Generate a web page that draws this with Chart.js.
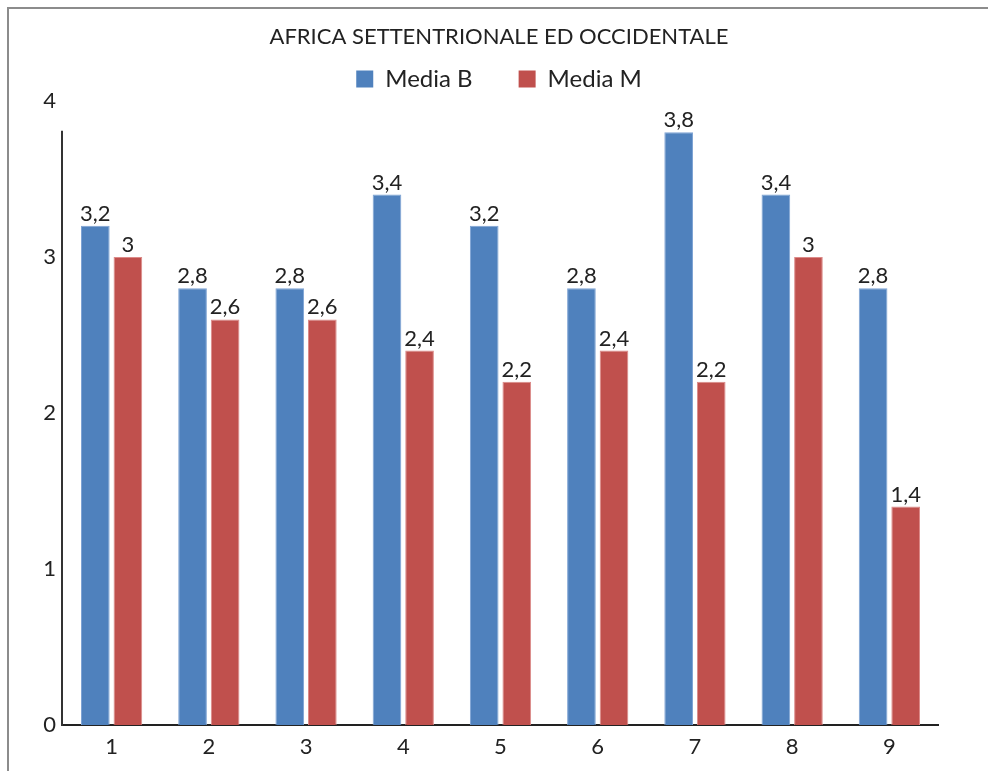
<!DOCTYPE html>
<html>
<head>
<meta charset="utf-8">
<title>Africa settentrionale ed occidentale</title>
<script src="https://cdn.jsdelivr.net/npm/chart.js@4.4.1/dist/chart.umd.min.js"></script>
<style>
  html, body { margin: 0; padding: 0; background: #fff; }
  #wrap { position: relative; width: 988px; height: 771px; overflow: hidden; }
  #frame { position: absolute; left: 7px; top: 7px; width: 1000px; height: 800px;
           border-left: 2px solid #8c8c8c; border-top: 2px solid #8c8c8c; }
  canvas { position: absolute; left: 0; top: 0; }
</style>
</head>
<body>
<div id="wrap">
  <div id="frame"></div>
  <canvas id="chart" width="988" height="771"></canvas>
</div>
<script>
const categories = ['1', '2', '3', '4', '5', '6', '7', '8', '9'];
const mediaB = [3.2, 2.8, 2.8, 3.4, 3.2, 2.8, 3.8, 3.4, 2.8];
const mediaM = [3, 2.6, 2.6, 2.4, 2.2, 2.4, 2.2, 3, 1.4];
const seriesNames = ['Media B', 'Media M'];
const yMin = 0, yMax = 4, yStep = 1;

const FONT = 'Lato, "Liberation Sans", sans-serif';
const TEXT = '#222';

const fmt = v => String(v).replace('.', ',');

// numbers on top of each bar
const valueLabels = {
  id: 'valueLabels',
  afterDatasetsDraw(chart) {
    const ctx = chart.ctx;
    ctx.save();
    ctx.font = '22px ' + FONT;
    ctx.fillStyle = TEXT;
    ctx.textAlign = 'center';
    ctx.textBaseline = 'alphabetic';
    chart.data.datasets.forEach((ds, i) => {
      chart.getDatasetMeta(i).data.forEach((bar, j) => {
        ctx.fillText(fmt(ds.data[j]), bar.x, bar.y - 5);
      });
    });
    ctx.restore();
  }
};

// the vertical axis line stops a little below the top tick
const yAxisLine = {
  id: 'yAxisLine',
  afterDraw(chart) {
    const { ctx, scales: { x, y } } = chart;
    ctx.save();
    ctx.strokeStyle = '#333';
    ctx.lineWidth = 2;
    ctx.beginPath();
    ctx.moveTo(x.left - 1, y.getPixelForValue(3.81));
    ctx.lineTo(x.left - 1, y.bottom + 1);
    ctx.stroke();
    ctx.restore();
  }
};

new Chart(document.getElementById('chart'), {
  type: 'bar',
  data: {
    labels: categories,
    datasets: [
      { label: seriesNames[0], data: mediaB, backgroundColor: '#4f81bd',
        borderColor: '#7ea3d4', borderWidth: 1 },
      { label: seriesNames[1], data: mediaM, backgroundColor: '#c0504d',
        borderColor: '#dc8a88', borderWidth: 1 }
    ]
  },
  options: {
    responsive: false,
    devicePixelRatio: 1,
    animation: false,
    categoryPercentage: 0.67,
    barPercentage: 0.88,
    layout: { padding: { left: 10, right: 0, top: 0, bottom: 0 } },
    plugins: {
      title: {
        display: true,
        text: 'AFRICA SETTENTRIONALE ED OCCIDENTALE',
        color: TEXT,
        font: { family: FONT, size: 22, weight: 'normal' },
        padding: { top: 24, bottom: 6.6 }
      },
      legend: {
        position: 'top',
        labels: {
          color: TEXT,
          font: { family: FONT, size: 24 },
          boxWidth: 17,
          boxHeight: 17,
          padding: 10,
          generateLabels(chart) {
            const items = Chart.defaults.plugins.legend.labels.generateLabels(chart);
            items.forEach((it, i) => {
              it.lineWidth = 0;
              if (i < items.length - 1) it.text += '\u2003\u2003';
            });
            return items;
          }
        }
      },
      tooltip: { enabled: false }
    },
    scales: {
      x: {
        grid: { display: false, drawTicks: false },
        border: { display: true, color: '#222', width: 2 },
        ticks: { color: TEXT, font: { family: FONT, size: 22 }, padding: 9 },
        afterFit(scale) { scale.height = 46; }
      },
      y: {
        min: yMin,
        max: yMax,
        grid: { display: false, drawTicks: false },
        border: { display: false },
        ticks: { stepSize: yStep, color: TEXT, font: { family: FONT, size: 22 }, padding: 7 },
        afterFit(scale) { scale.width = 53; }
      },
      // empty strip on the right of the plot
      yRight: {
        position: 'right',
        grid: { display: false, drawTicks: false },
        border: { display: false },
        ticks: { display: false },
        afterFit(scale) { scale.width = 50; }
      }
    }
  },
  plugins: [valueLabels, yAxisLine]
});
</script>
</body>
</html>
